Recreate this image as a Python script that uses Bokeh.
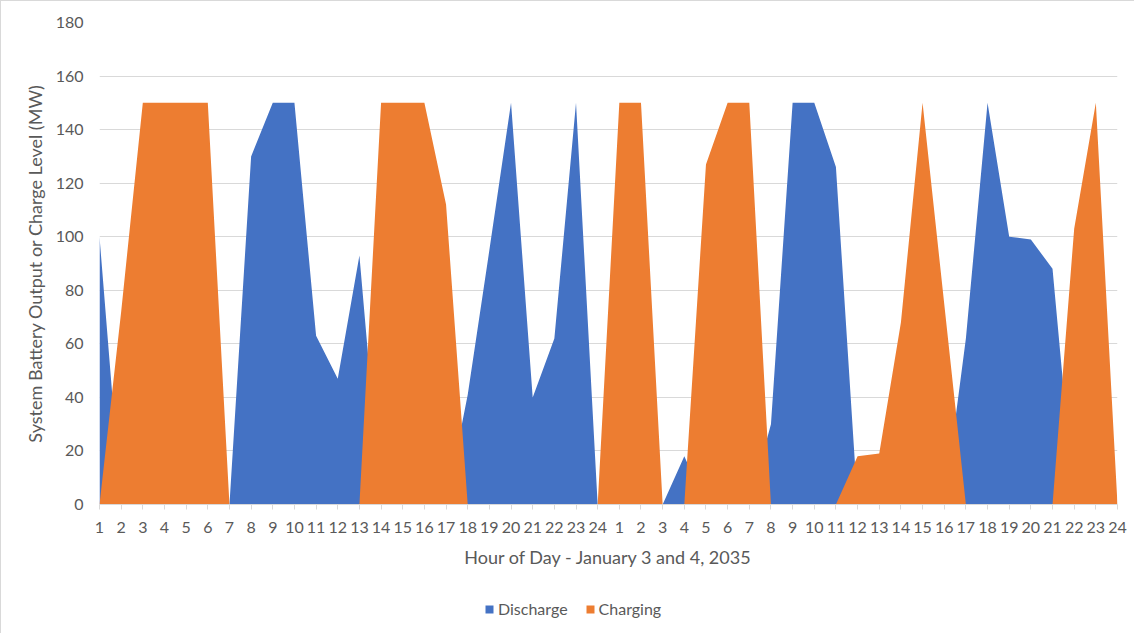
from bokeh.plotting import figure
from bokeh.models import ColumnDataSource, FixedTicker, Legend, LegendItem
from bokeh.layouts import column
from bokeh.embed import file_html
from bokeh.resources import INLINE

hours = [str(h) for h in range(1, 25)] * 2
discharge = [100, 0, 0, 0, 0, 0, 0, 130, 150, 150, 63, 47, 93, 0, 0, 0, 0, 41, 95, 150, 40, 62, 150, 0,
             0, 0, 0, 18, 0, 0, 0, 30, 150, 150, 126, 0, 0, 0, 0, 0, 62, 150, 100, 99, 88, 0, 0, 0]
charging = [0, 72, 150, 150, 150, 150, 0, 0, 0, 0, 0, 0, 0, 150, 150, 150, 112, 0, 0, 0, 0, 0, 0, 0,
            150, 150, 0, 0, 127, 150, 150, 0, 0, 0, 0, 18, 19, 68, 150, 75, 0, 0, 0, 0, 0, 103, 150, 0]
y_ticks = [0, 20, 40, 60, 80, 100, 120, 140, 160, 180]
series_names = ["Discharge", "Charging"]
series_colors = ["#4472C4", "#ED7D31"]

xs = list(range(1, len(hours) + 1))
src = ColumnDataSource(dict(x=xs, d=discharge, c=charging, zero=[0] * len(xs)))

FONT = "Lato"
GREY = "#595959"
GRID = "#D9D9D9"

p = figure(width=1133, height=585, output_backend="svg", toolbar_location=None,
           x_range=(1, len(xs)), y_range=(0, 180),
           min_border_left=98, min_border_right=17, min_border_top=21, min_border_bottom=82)
p.outline_line_color = None

p.varea(x="x", y1="zero", y2="d", source=src, fill_color=series_colors[0])
p.varea(x="x", y1="zero", y2="c", source=src, fill_color=series_colors[1])

p.xaxis.ticker = FixedTicker(ticks=xs)
p.xaxis.major_label_overrides = {x: h for x, h in zip(xs, hours)}
p.xaxis.axis_line_color = GRID
p.xaxis.major_tick_line_color = GRID
p.xaxis.major_tick_out = 5
p.xaxis.major_tick_in = 0
p.xaxis.minor_tick_line_color = None
p.xaxis.major_label_standoff = 12
p.xaxis.axis_label = "Hour of Day - January 3 and 4, 2035"
p.xaxis.axis_label_standoff = 10

p.yaxis.ticker = FixedTicker(ticks=y_ticks)
p.yaxis.axis_line_color = None
p.yaxis.major_tick_line_color = None
p.yaxis.major_tick_out = 0
p.yaxis.major_tick_in = 0
p.yaxis.minor_tick_line_color = None
p.yaxis.major_label_standoff = 16
p.yaxis.axis_label = "System Battery Output or Charge Level (MW)"
p.yaxis.axis_label_standoff = 7

for ax in (p.xaxis[0], p.yaxis[0]):
    ax.major_label_text_font = FONT
    ax.major_label_text_font_size = "16px"
    ax.major_label_text_color = GREY
    ax.axis_label_text_font = FONT
    ax.axis_label_text_font_size = "18px"
    ax.axis_label_text_font_style = "normal"
    ax.axis_label_text_color = GREY

p.xgrid.grid_line_color = None
p.ygrid.grid_line_color = GRID
p.ygrid.ticker = FixedTicker(ticks=y_ticks)

# legend strip below the chart (series renderers kept outside its visible x range)
lg = figure(width=1133, height=47, output_backend="svg", toolbar_location=None,
            x_axis_type=None, y_axis_type=None, min_border=0,
            x_range=(-10, 0), y_range=(0, 1))
lg.outline_line_color = None
lg.grid.visible = False
items = []
for name, col, key in zip(series_names, series_colors, ["d", "c"]):
    r = lg.varea(x="x", y1="zero", y2=key, source=src, fill_color=col)
    items.append(LegendItem(label=name, renderers=[r]))
legend = Legend(items=items, orientation="horizontal", location=(385, 15), margin=0, padding=4,
                label_text_font=FONT, label_text_font_size="16px", label_text_color=GREY,
                glyph_width=10, glyph_height=10, spacing=17, label_standoff=4,
                border_line_color=None, background_fill_alpha=0)
lg.add_layout(legend, "center")

layout = column(p, lg, spacing=0)
layout.styles = {"border-left": "1px solid #D9D9D9", "border-top": "1px solid #D9D9D9"}

open("out.html", "w").write(file_html(layout, INLINE))
